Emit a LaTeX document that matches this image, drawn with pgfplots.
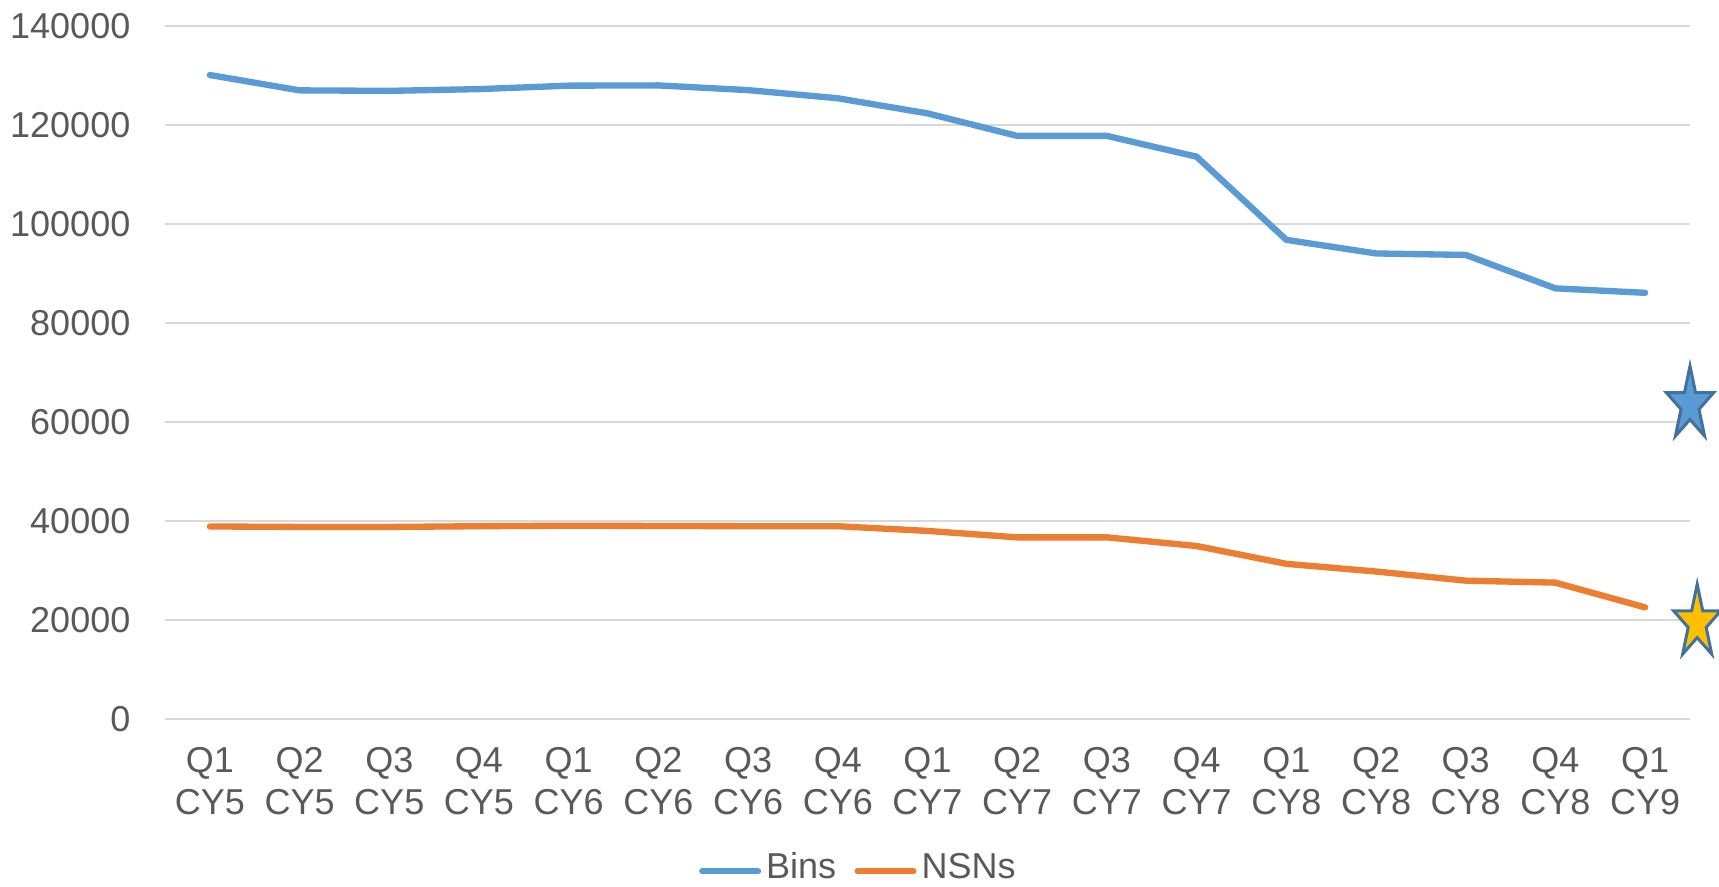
\documentclass[border=0pt]{standalone}
\usepackage{fontspec}
\setmainfont{Liberation Sans}
\usepackage{pgfplots}
\pgfplotsset{compat=1.18}

\definecolor{binsblue}{HTML}{5B9BD5}
\definecolor{nsnorange}{HTML}{ED7D31}
\definecolor{gridgray}{HTML}{D9D9D9}
\definecolor{labelgray}{HTML}{595959}
\definecolor{starline}{HTML}{41719C}
\definecolor{staryellow}{HTML}{FFC000}

% five-pointed star, taller than wide
\pgfdeclareplotmark{tallstar}{%
  \pgfpathmoveto{\pgfqpoint{0pt}{\pgfplotmarksize}}%
  \pgfpathlineto{\pgfqpoint{-0.1437\pgfplotmarksize}{0.3090\pgfplotmarksize}}%
  \pgfpathlineto{\pgfqpoint{-0.6087\pgfplotmarksize}{0.3090\pgfplotmarksize}}%
  \pgfpathlineto{\pgfqpoint{-0.2325\pgfplotmarksize}{-0.1180\pgfplotmarksize}}%
  \pgfpathlineto{\pgfqpoint{-0.3762\pgfplotmarksize}{-0.8090\pgfplotmarksize}}%
  \pgfpathlineto{\pgfqpoint{0pt}{-0.382\pgfplotmarksize}}%
  \pgfpathlineto{\pgfqpoint{0.3762\pgfplotmarksize}{-0.8090\pgfplotmarksize}}%
  \pgfpathlineto{\pgfqpoint{0.2325\pgfplotmarksize}{-0.1180\pgfplotmarksize}}%
  \pgfpathlineto{\pgfqpoint{0.6087\pgfplotmarksize}{0.3090\pgfplotmarksize}}%
  \pgfpathlineto{\pgfqpoint{0.1437\pgfplotmarksize}{0.3090\pgfplotmarksize}}%
  \pgfpathclose
  \pgfusepathqfillstroke
}

\begin{document}
\begin{tikzpicture}
\path[use as bounding box] (-49.5pt,-50.1pt) rectangle (466.2pt,215.7pt);
\begin{axis}[
    scale only axis,
    width=457.5pt,
    height=207.9pt,
    xmin=-0.5, xmax=16.5,
    ymin=0, ymax=140000,
    clip=false,
    axis line style={draw=none},
    major tick length=0pt,
    ymajorgrids,
    grid style={gridgray, line width=0.6pt},
    xtick={0,...,16},
    xticklabels={{Q1\\CY5},{Q2\\CY5},{Q3\\CY5},{Q4\\CY5},
                 {Q1\\CY6},{Q2\\CY6},{Q3\\CY6},{Q4\\CY6},
                 {Q1\\CY7},{Q2\\CY7},{Q3\\CY7},{Q4\\CY7},
                 {Q1\\CY8},{Q2\\CY8},{Q3\\CY8},{Q4\\CY8},
                 {Q1\\CY9}},
    ytick={0,20000,...,140000},
    scaled y ticks=false,
    /pgf/number format/assume math mode=true,
    /pgf/number format/fixed,
    /pgf/number format/1000 sep={},
    tick label style={font=\fontsize{10.8}{12.6}\selectfont, text=labelgray},
    yticklabel style={anchor=east, inner sep=0pt, xshift=-10.2pt},
    xticklabel style={anchor=north, align=center, inner sep=0pt, yshift=-8.4pt},
    legend columns=2,
    legend style={at={(0.454,-0.215)}, anchor=center, draw=none, fill=none,
        inner sep=0pt, font=\fontsize{10.8}{12.6}\selectfont, text=labelgray,
        nodes={inner sep=0pt},
        /tikz/every odd column/.style={column sep=1.5pt},
        /tikz/every even column/.style={column sep=5.5pt}},
    legend image code/.code={\draw[line width=1.8pt, line cap=round] (0pt,-1pt) -- (16.8pt,-1pt);},
]
\addplot[binsblue, line width=1.9pt, line cap=round, line join=round] coordinates {
    (0,130100) (1,127000) (2,126900) (3,127250) (4,127950) (5,128000)
    (6,127050) (7,125400) (8,122350) (9,117800) (10,117800) (11,113600)
    (12,96800) (13,94050) (14,93750) (15,87000) (16,86100)
};
\addlegendentry{Bins}
\addplot[nsnorange, line width=1.9pt, line cap=round, line join=round] coordinates {
    (0,38900) (1,38800) (2,38800) (3,38950) (4,39050) (5,39000)
    (6,38950) (7,38950) (8,38000) (9,36700) (10,36700) (11,34950)
    (12,31350) (13,29800) (14,27950) (15,27550) (16,22550)
};
\addlegendentry{NSNs}
\addplot[forget plot, only marks, mark=tallstar, mark size=11.6pt,
    mark options={draw=starline, fill=binsblue, line width=0.9pt}] coordinates {(16.5,63500)};
\addplot[forget plot, only marks, mark=tallstar, mark size=11.6pt,
    mark options={draw=starline, fill=staryellow, line width=0.9pt}] coordinates {(16.58,19430)};
\end{axis}
\end{tikzpicture}
\end{document}
